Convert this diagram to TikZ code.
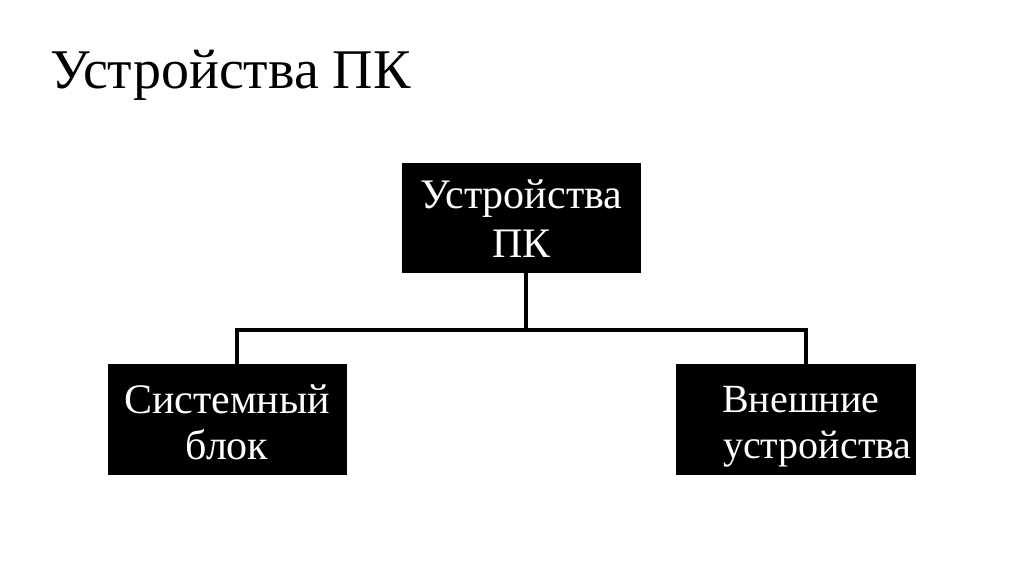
\documentclass[tikz,border=0pt]{standalone}
\usepackage{fontspec}
\setmainfont{Liberation Serif}
\begin{document}
\begin{tikzpicture}[x=1pt,y=-1pt,
  blackbox/.style={fill=black,inner sep=0pt,minimum width=239pt,minimum height=111pt},
  whitetext/.style={text=white,inner sep=0pt,anchor=base,font=\fontsize{42}{48}\selectfont},
  conn/.style={line width=3.6pt,draw=black}]
\useasboundingbox[fill=white] (0,0) rectangle (1024,574);
\node[anchor=base west,font=\fontsize{56}{60}\selectfont,inner sep=0pt] (title) at (50,88) {Устройства ПК};
% boxes
\node[blackbox,minimum height=110pt] (top) at (521.5,218) {};
\node[whitetext] (top1) at (521.5,208) {Устройства};
\node[whitetext] (top2) at (521.5,257) {ПК};
\node[blackbox] (left) at (227.5,419.5) {};
\node[whitetext] (left1) at (227,413) {Системный};
\node[whitetext] (left2) at (227,459) {блок};
\node[blackbox,minimum width=240pt] (right) at (796,419.5) {};
\node[whitetext,anchor=base west,font=\fontsize{40}{44}\selectfont] (right1) at (722,412) {Внешние};
\node[whitetext,anchor=base west,font=\fontsize{40}{44}\selectfont] (right2) at (723,458) {устройства};
% connectors
\coordinate (j) at (526,330);
\coordinate (lj) at (237,330);
\coordinate (rj) at (806,330);
\draw[conn] (top.south -| j) -- (j);
\draw[conn] (left.north -| lj) -- (lj) -- (rj) -- (right.north -| rj);
\end{tikzpicture}
\end{document}
